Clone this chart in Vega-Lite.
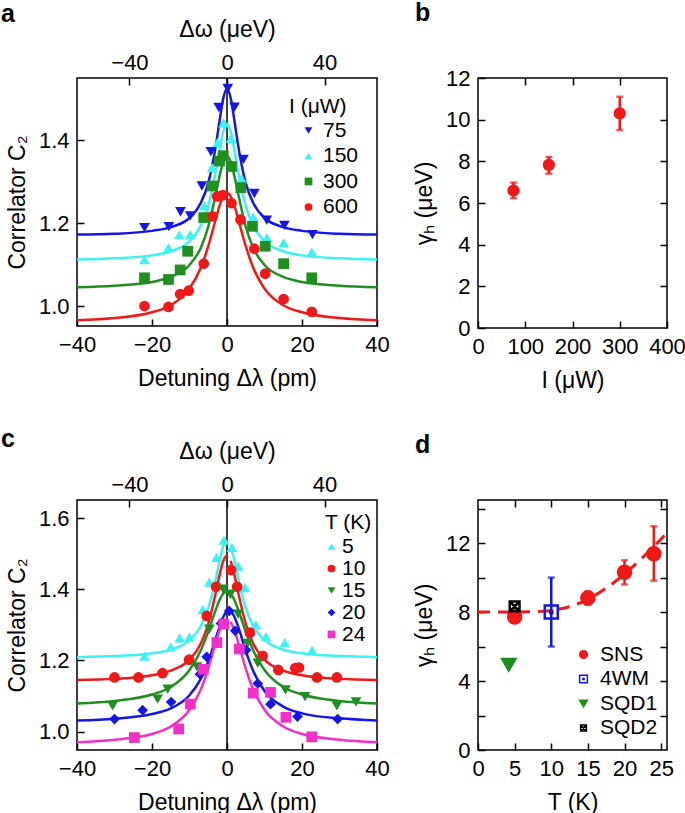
{
  "$schema": "https://vega.github.io/schema/vega-lite/v6.json",
  "background": "white",
  "padding": {"left": 0, "top": 0, "right": 0, "bottom": 0},
  "datasets": {
    "aCurve": [
      {"x": -40, "I75": 1.173, "I150": 1.113, "I300": 1.046, "I600": 0.967},
      {"x": -30, "I75": 1.175, "I150": 1.116, "I300": 1.050, "I600": 0.972},
      {"x": -20, "I75": 1.182, "I150": 1.123, "I300": 1.059, "I600": 0.986},
      {"x": -15, "I75": 1.191, "I150": 1.133, "I300": 1.071, "I600": 1.003},
      {"x": -10, "I75": 1.213, "I150": 1.157, "I300": 1.100, "I600": 1.043},
      {"x": -7, "I75": 1.249, "I150": 1.194, "I300": 1.141, "I600": 1.093},
      {"x": -5, "I75": 1.297, "I150": 1.242, "I300": 1.192, "I600": 1.145},
      {"x": -3, "I75": 1.386, "I150": 1.324, "I300": 1.270, "I600": 1.210},
      {"x": -2, "I75": 1.446, "I150": 1.376, "I300": 1.313, "I600": 1.242},
      {"x": -1, "I75": 1.501, "I150": 1.421, "I300": 1.348, "I600": 1.265},
      {"x": 0, "I75": 1.525, "I150": 1.439, "I300": 1.362, "I600": 1.273},
      {"x": 1, "I75": 1.501, "I150": 1.421, "I300": 1.348, "I600": 1.265},
      {"x": 2, "I75": 1.446, "I150": 1.376, "I300": 1.313, "I600": 1.242},
      {"x": 3, "I75": 1.386, "I150": 1.324, "I300": 1.270, "I600": 1.210},
      {"x": 5, "I75": 1.297, "I150": 1.242, "I300": 1.192, "I600": 1.145},
      {"x": 7, "I75": 1.249, "I150": 1.194, "I300": 1.141, "I600": 1.093},
      {"x": 10, "I75": 1.213, "I150": 1.157, "I300": 1.100, "I600": 1.043},
      {"x": 15, "I75": 1.191, "I150": 1.133, "I300": 1.071, "I600": 1.003},
      {"x": 20, "I75": 1.182, "I150": 1.123, "I300": 1.059, "I600": 0.986},
      {"x": 30, "I75": 1.175, "I150": 1.116, "I300": 1.050, "I600": 0.972},
      {"x": 40, "I75": 1.173, "I150": 1.113, "I300": 1.046, "I600": 0.967}
    ],
    "aPts": [
      {"x": -22.0, "y": 1.190, "s": "75"}, {"x": -15.5, "y": 1.192, "s": "75"}, {"x": -12.4, "y": 1.228, "s": "75"},
      {"x": -9.8, "y": 1.218, "s": "75"}, {"x": -6.7, "y": 1.290, "s": "75"}, {"x": -4.3, "y": 1.373, "s": "75"},
      {"x": -2.2, "y": 1.479, "s": "75"}, {"x": 0.2, "y": 1.525, "s": "75"}, {"x": 2.0, "y": 1.480, "s": "75"},
      {"x": 4.4, "y": 1.354, "s": "75"}, {"x": 7.3, "y": 1.272, "s": "75"}, {"x": 10.6, "y": 1.208, "s": "75"},
      {"x": 15.3, "y": 1.195, "s": "75"}, {"x": 22.8, "y": 1.173, "s": "75"},
      {"x": -22.0, "y": 1.113, "s": "150"}, {"x": -15.6, "y": 1.141, "s": "150"}, {"x": -12.7, "y": 1.173, "s": "150"},
      {"x": -9.8, "y": 1.173, "s": "150"}, {"x": -6.0, "y": 1.242, "s": "150"}, {"x": -4.0, "y": 1.334, "s": "150"},
      {"x": -2.5, "y": 1.395, "s": "150"}, {"x": -0.9, "y": 1.442, "s": "150"}, {"x": 1.1, "y": 1.405, "s": "150"},
      {"x": 3.9, "y": 1.308, "s": "150"}, {"x": 7.0, "y": 1.215, "s": "150"}, {"x": 10.7, "y": 1.165, "s": "150"},
      {"x": 15.1, "y": 1.153, "s": "150"}, {"x": 22.6, "y": 1.131, "s": "150"},
      {"x": -22.0, "y": 1.069, "s": "300"}, {"x": -15.6, "y": 1.065, "s": "300"}, {"x": -12.5, "y": 1.088, "s": "300"},
      {"x": -10.5, "y": 1.133, "s": "300"}, {"x": -6.2, "y": 1.214, "s": "300"}, {"x": -4.0, "y": 1.290, "s": "300"},
      {"x": -2.0, "y": 1.350, "s": "300"}, {"x": -1.0, "y": 1.363, "s": "300"}, {"x": 1.2, "y": 1.337, "s": "300"},
      {"x": 3.7, "y": 1.286, "s": "300"}, {"x": 6.8, "y": 1.193, "s": "300"}, {"x": 10.2, "y": 1.145, "s": "300"},
      {"x": 15.1, "y": 1.103, "s": "300"}, {"x": 22.6, "y": 1.069, "s": "300"},
      {"x": -22.0, "y": 1.001, "s": "600"}, {"x": -15.6, "y": 0.999, "s": "600"}, {"x": -12.5, "y": 1.030, "s": "600"},
      {"x": -10.2, "y": 1.038, "s": "600"}, {"x": -6.2, "y": 1.103, "s": "600"}, {"x": -3.8, "y": 1.217, "s": "600"},
      {"x": -2.6, "y": 1.265, "s": "600"}, {"x": -1.1, "y": 1.268, "s": "600"}, {"x": 1.2, "y": 1.249, "s": "600"},
      {"x": 3.6, "y": 1.209, "s": "600"}, {"x": 7.3, "y": 1.139, "s": "600"}, {"x": 10.2, "y": 1.079, "s": "600"},
      {"x": 15.1, "y": 1.018, "s": "600"}, {"x": 22.6, "y": 0.987, "s": "600"}
    ],
    "bPts": [
      {"I": 75, "g": 6.6, "lo": 6.23, "hi": 6.98},
      {"I": 150, "g": 7.83, "lo": 7.41, "hi": 8.21},
      {"I": 300, "g": 10.3, "lo": 9.5, "hi": 11.1}
    ],
    "cCurve": [
      {"x": -40, "T5": 1.209, "T10": 1.145, "T15": 1.079, "T20": 1.031, "T24": 0.970},
      {"x": -30, "T5": 1.212, "T10": 1.148, "T15": 1.086, "T20": 1.036, "T24": 0.977},
      {"x": -20, "T5": 1.220, "T10": 1.158, "T15": 1.104, "T20": 1.049, "T24": 0.993},
      {"x": -15, "T5": 1.230, "T10": 1.171, "T15": 1.125, "T20": 1.065, "T24": 1.014},
      {"x": -10, "T5": 1.257, "T10": 1.202, "T15": 1.173, "T20": 1.102, "T24": 1.061},
      {"x": -7, "T5": 1.296, "T10": 1.247, "T15": 1.228, "T20": 1.148, "T24": 1.118},
      {"x": -5, "T5": 1.347, "T10": 1.303, "T15": 1.281, "T20": 1.196, "T24": 1.177},
      {"x": -3, "T5": 1.429, "T10": 1.390, "T15": 1.342, "T20": 1.261, "T24": 1.250},
      {"x": -2, "T5": 1.479, "T10": 1.439, "T15": 1.369, "T20": 1.294, "T24": 1.284},
      {"x": -1, "T5": 1.521, "T10": 1.480, "T15": 1.388, "T20": 1.322, "T24": 1.308},
      {"x": 0, "T5": 1.538, "T10": 1.496, "T15": 1.395, "T20": 1.339, "T24": 1.317},
      {"x": 0.5, "T20": 1.341},
      {"x": 1, "T5": 1.521, "T10": 1.480, "T15": 1.388, "T20": 1.339, "T24": 1.308},
      {"x": 2, "T5": 1.479, "T10": 1.439, "T15": 1.369, "T20": 1.322, "T24": 1.284},
      {"x": 3, "T5": 1.429, "T10": 1.390, "T15": 1.342, "T20": 1.294, "T24": 1.250},
      {"x": 5, "T5": 1.347, "T10": 1.303, "T15": 1.281, "T20": 1.227, "T24": 1.177},
      {"x": 7, "T5": 1.296, "T10": 1.247, "T15": 1.228, "T20": 1.170, "T24": 1.118},
      {"x": 10, "T5": 1.257, "T10": 1.202, "T15": 1.173, "T20": 1.114, "T24": 1.061},
      {"x": 15, "T5": 1.230, "T10": 1.171, "T15": 1.125, "T20": 1.070, "T24": 1.014},
      {"x": 20, "T5": 1.220, "T10": 1.158, "T15": 1.104, "T20": 1.051, "T24": 0.993},
      {"x": 30, "T5": 1.212, "T10": 1.148, "T15": 1.086, "T20": 1.037, "T24": 0.977},
      {"x": 40, "T5": 1.209, "T10": 1.145, "T15": 1.079, "T20": 1.031, "T24": 0.970}
    ],
    "cPts": [
      {"x": -22.0, "y": 1.212, "s": "5"}, {"x": -15.0, "y": 1.238, "s": "5"}, {"x": -12.6, "y": 1.263, "s": "5"},
      {"x": -10.0, "y": 1.266, "s": "5"}, {"x": -6.5, "y": 1.343, "s": "5"}, {"x": -4.7, "y": 1.420, "s": "5"},
      {"x": -2.8, "y": 1.490, "s": "5"}, {"x": -0.8, "y": 1.538, "s": "5"}, {"x": 1.3, "y": 1.518, "s": "5"},
      {"x": 3.0, "y": 1.465, "s": "5"}, {"x": 4.8, "y": 1.405, "s": "5"}, {"x": 7.7, "y": 1.300, "s": "5"},
      {"x": 10.4, "y": 1.267, "s": "5"}, {"x": 15.4, "y": 1.250, "s": "5"}, {"x": 22.7, "y": 1.228, "s": "5"},
      {"x": -30.0, "y": 1.152, "s": "10"}, {"x": -23.6, "y": 1.152, "s": "10"}, {"x": -17.2, "y": 1.164, "s": "10"},
      {"x": -10.1, "y": 1.202, "s": "10"}, {"x": -5.4, "y": 1.325, "s": "10"}, {"x": -2.9, "y": 1.407, "s": "10"},
      {"x": 1.1, "y": 1.454, "s": "10"}, {"x": 2.7, "y": 1.407, "s": "10"}, {"x": 6.1, "y": 1.278, "s": "10"},
      {"x": 9.5, "y": 1.213, "s": "10"}, {"x": 13.7, "y": 1.173, "s": "10"}, {"x": 18.2, "y": 1.178, "s": "10"},
      {"x": 19.2, "y": 1.180, "s": "10"}, {"x": 24.0, "y": 1.152, "s": "10"}, {"x": 29.3, "y": 1.152, "s": "10"},
      {"x": -30.5, "y": 1.072, "s": "15"}, {"x": -18.5, "y": 1.091, "s": "15"}, {"x": -15.8, "y": 1.119, "s": "15"},
      {"x": -8.0, "y": 1.182, "s": "15"}, {"x": -4.7, "y": 1.288, "s": "15"}, {"x": -1.0, "y": 1.400, "s": "15"},
      {"x": 0.9, "y": 1.386, "s": "15"}, {"x": 3.0, "y": 1.330, "s": "15"}, {"x": 5.5, "y": 1.248, "s": "15"},
      {"x": 8.2, "y": 1.192, "s": "15"}, {"x": 15.6, "y": 1.117, "s": "15"}, {"x": 20.8, "y": 1.098, "s": "15"},
      {"x": 29.3, "y": 1.072, "s": "15"}, {"x": 34.4, "y": 1.083, "s": "15"},
      {"x": -30.0, "y": 1.035, "s": "20"}, {"x": -22.5, "y": 1.060, "s": "20"}, {"x": -14.9, "y": 1.083, "s": "20"},
      {"x": -7.2, "y": 1.161, "s": "20"}, {"x": -5.4, "y": 1.210, "s": "20"}, {"x": -1.6, "y": 1.304, "s": "20"},
      {"x": 0.6, "y": 1.339, "s": "20"}, {"x": 2.2, "y": 1.283, "s": "20"}, {"x": 5.1, "y": 1.229, "s": "20"},
      {"x": 8.2, "y": 1.135, "s": "20"}, {"x": 11.6, "y": 1.077, "s": "20"}, {"x": 18.8, "y": 1.042, "s": "20"},
      {"x": 29.5, "y": 1.035, "s": "20"},
      {"x": -24.7, "y": 0.983, "s": "24"}, {"x": -12.9, "y": 1.007, "s": "24"}, {"x": -9.8, "y": 1.077, "s": "24"},
      {"x": -6.3, "y": 1.175, "s": "24"}, {"x": -2.7, "y": 1.250, "s": "24"}, {"x": -0.9, "y": 1.302, "s": "24"},
      {"x": 3.3, "y": 1.232, "s": "24"}, {"x": 7.0, "y": 1.108, "s": "24"}, {"x": 11.6, "y": 1.110, "s": "24"},
      {"x": 15.7, "y": 1.040, "s": "24"}, {"x": 22.6, "y": 0.985, "s": "24"}
    ],
    "dFit": [
      {"T": 0, "g": 8.0}, {"T": 4, "g": 8.0}, {"T": 8, "g": 8.02}, {"T": 10, "g": 8.08},
      {"T": 12, "g": 8.25}, {"T": 14, "g": 8.54}, {"T": 16, "g": 8.97}, {"T": 18, "g": 9.53},
      {"T": 20, "g": 10.2}, {"T": 22, "g": 10.97}, {"T": 24, "g": 11.8}, {"T": 25.8, "g": 12.6}
    ],
    "dErr": [
      {"T": 5, "lo": 7.39, "hi": 8.07, "m": "SNS"},
      {"T": 15, "lo": 8.42, "hi": 9.2, "m": "SNS"},
      {"T": 20, "lo": 9.6, "hi": 11.0, "m": "SNS"},
      {"T": 24, "lo": 9.82, "hi": 12.98, "m": "SNS"},
      {"T": 10, "lo": 6.0, "hi": 10.0, "m": "4WM"}
    ],
    "dPts": [
      {"T": 5, "g": 7.72, "m": "SNS"},
      {"T": 15, "g": 8.81, "m": "SNS"},
      {"T": 20, "g": 10.31, "m": "SNS"},
      {"T": 24, "g": 11.38, "m": "SNS"},
      {"T": 10, "g": 8.0, "m": "4WM"},
      {"T": 4.2, "g": 4.95, "m": "SQD1"},
      {"T": 5, "g": 8.33, "m": "SQD2"}
    ]
  },
  "columns": 2,
  "bounds": "flush",
  "spacing": {"row": 172, "column": 101},
  "resolve": {
    "scale": {"color": "independent", "shape": "independent", "stroke": "independent", "fill": "independent"},
    "legend": {"color": "independent", "shape": "independent", "stroke": "independent", "fill": "independent"}
  },
  "concat": [
    {
      "width": 300, "height": 248,
      "title": {"text": "a", "dx": -76, "offset": -9},
      "layer": [
        {
          "data": {"values": [{"w": 0}]},
          "mark": {"type": "rule", "color": "black", "strokeWidth": 1.5},
          "encoding": {
            "x": {"field": "w", "type": "quantitative", "scale": {"domain": [-61.5, 61.5], "nice": false, "zero": false},
                  "axis": {"orient": "top", "title": "Δω (μeV)", "values": [-40, 0, 40]}}
          }
        },
        {
          "layer": [
            {
              "data": {"name": "aCurve"},
              "transform": [{"fold": ["I75", "I150", "I300", "I600"], "as": ["k", "v"]}],
              "mark": {"type": "line", "interpolate": "monotone", "strokeWidth": 2.5, "clip": true},
              "encoding": {
                "x": {"field": "x", "type": "quantitative", "scale": {"domain": [-40, 40], "nice": false},
                      "axis": {"title": "Detuning Δλ (pm)", "values": [-40, -20, 0, 20, 40]}},
                "y": {"field": "v", "type": "quantitative", "scale": {"domain": [0.953, 1.55], "nice": false, "zero": false},
                      "axis": {"title": "Correlator C₂", "values": [1.0, 1.2, 1.4], "format": ".1f"}},
                "stroke": {"field": "k", "type": "nominal", "legend": null,
                           "scale": {"domain": ["I75", "I150", "I300", "I600"], "range": ["#1515e8", "#3ef2f2", "#1f8f1f", "#f01818"]}}
              }
            },
            {
              "data": {"name": "aPts"},
              "mark": {"type": "point", "filled": true, "opacity": 1, "size": 115},
              "encoding": {
                "x": {"field": "x", "type": "quantitative"},
                "y": {"field": "y", "type": "quantitative"},
                "color": {"field": "s", "type": "nominal",
                          "scale": {"domain": ["75", "150", "300", "600"], "range": ["#1515e8", "#3ef2f2", "#1f8f1f", "#f01818"]},
                          "legend": {"title": "I (μW)", "orient": "none", "legendX": 212, "legendY": 18, "rowPadding": 3.5, "symbolOffset": 9, "labelOffset": 4}},
                "shape": {"field": "s", "type": "nominal",
                          "scale": {"domain": ["75", "150", "300", "600"], "range": ["triangle-down", "triangle-up", "square", "circle"]},
                          "legend": {"title": "I (μW)", "orient": "none", "legendX": 212, "legendY": 18, "rowPadding": 3.5, "symbolOffset": 9, "labelOffset": 4}}
              }
            }
          ]
        }
      ],
      "resolve": {"scale": {"x": "independent"}}
    },
    {
      "width": 189, "height": 250,
      "title": {"text": "b", "dx": -63, "offset": 41},
      "data": {"name": "bPts"},
      "layer": [
        {
          "mark": {"type": "rule", "color": "#f01818", "strokeWidth": 2.5},
          "encoding": {
            "x": {"field": "I", "type": "quantitative", "scale": {"domain": [0, 400], "nice": false},
                  "axis": {"title": "I (μW)", "values": [0, 100, 200, 300, 400]}},
            "y": {"field": "lo", "type": "quantitative", "scale": {"domain": [0, 12], "nice": false},
                  "axis": {"title": "γₕ (μeV)", "values": [0, 2, 4, 6, 8, 10, 12]}},
            "y2": {"field": "hi"}
          }
        },
        {
          "transform": [{"fold": ["lo", "hi"], "as": ["k", "v"]}],
          "mark": {"type": "tick", "orient": "horizontal", "color": "#f01818", "size": 7, "thickness": 2.5},
          "encoding": {
            "x": {"field": "I", "type": "quantitative", "axis": {"orient": "top", "labels": false, "title": null, "values": [100, 200, 300]}},
            "y": {"field": "v", "type": "quantitative", "axis": {"orient": "right", "labels": false, "title": null, "values": [2, 4, 6, 8, 10]}}
          }
        },
        {
          "mark": {"type": "point", "filled": true, "opacity": 1, "color": "#f01818", "size": 150},
          "encoding": {
            "x": {"field": "I", "type": "quantitative", "axis": null},
            "y": {"field": "g", "type": "quantitative", "axis": null}
          }
        }
      ],
      "resolve": {"axis": {"x": "independent", "y": "independent"}}
    },
    {
      "width": 300, "height": 250,
      "title": {"text": "c", "dx": -76, "offset": -12},
      "layer": [
        {
          "data": {"values": [{"w": 0}]},
          "mark": {"type": "rule", "color": "black", "strokeWidth": 1.5},
          "encoding": {
            "x": {"field": "w", "type": "quantitative", "scale": {"domain": [-61.5, 61.5], "nice": false, "zero": false},
                  "axis": {"orient": "top", "title": "Δω (μeV)", "values": [-40, 0, 40]}}
          }
        },
        {
          "layer": [
            {
              "data": {"name": "cCurve"},
              "transform": [{"fold": ["T5", "T10", "T15", "T20", "T24"], "as": ["k", "v"]}],
              "mark": {"type": "line", "interpolate": "monotone", "strokeWidth": 2.5, "clip": true},
              "encoding": {
                "x": {"field": "x", "type": "quantitative", "scale": {"domain": [-40, 40], "nice": false},
                      "axis": {"title": "Detuning Δλ (pm)", "values": [-40, -20, 0, 20, 40]}},
                "y": {"field": "v", "type": "quantitative", "scale": {"domain": [0.948, 1.651], "nice": false, "zero": false},
                      "axis": {"title": "Correlator C₂", "values": [1.0, 1.2, 1.4, 1.6], "format": ".1f"}},
                "stroke": {"field": "k", "type": "nominal", "legend": null,
                           "scale": {"domain": ["T5", "T10", "T15", "T20", "T24"], "range": ["#3ef2f2", "#f01818", "#1f8f1f", "#1515e8", "#f22fc8"]}}
              }
            },
            {
              "data": {"name": "cPts"},
              "mark": {"type": "point", "filled": true, "opacity": 1, "size": 115},
              "encoding": {
                "x": {"field": "x", "type": "quantitative"},
                "y": {"field": "y", "type": "quantitative"},
                "color": {"field": "s", "type": "nominal",
                          "scale": {"domain": ["5", "10", "15", "20", "24"], "range": ["#3ef2f2", "#f01818", "#1f8f1f", "#1515e8", "#f22fc8"]},
                          "legend": {"title": "T (K)", "orient": "none", "legendX": 248, "legendY": 12, "rowPadding": 0, "symbolOffset": -4, "labelOffset": 0}},
                "shape": {"field": "s", "type": "nominal",
                          "scale": {"domain": ["5", "10", "15", "20", "24"], "range": ["triangle-up", "circle", "triangle-down", "diamond", "square"]},
                          "legend": {"title": "T (K)", "orient": "none", "legendX": 248, "legendY": 12, "rowPadding": 0, "symbolOffset": -4, "labelOffset": 0}}
              }
            }
          ]
        }
      ],
      "resolve": {"scale": {"x": "independent"}}
    },
    {
      "width": 189, "height": 250,
      "title": {"text": "d", "dx": -63, "offset": 40},
      "layer": [
        {
          "data": {"name": "dFit"},
          "mark": {"type": "line", "color": "#f01818", "strokeWidth": 3, "strokeDash": [12, 8], "clip": true},
          "encoding": {
            "x": {"field": "T", "type": "quantitative", "scale": {"domain": [0, 25.8], "nice": false},
                  "axis": {"title": "T (K)", "values": [0, 5, 10, 15, 20, 25]}},
            "y": {"field": "g", "type": "quantitative", "scale": {"domain": [0, 14.5], "nice": false},
                  "axis": {"title": "γₕ (μeV)", "values": [0, 2, 4, 6, 8, 10, 12, 14], "labelExpr": "datum.value % 4 === 0 ? datum.label : ''"}}
          }
        },
        {
          "data": {"name": "dErr"},
          "transform": [{"filter": "datum.m === 'SNS'"}],
          "mark": {"type": "rule", "color": "#f01818", "strokeWidth": 2.5},
          "encoding": {
            "x": {"field": "T", "type": "quantitative", "axis": {"orient": "top", "labels": false, "title": null, "values": [5, 10, 15, 20, 25]}},
            "y": {"field": "lo", "type": "quantitative", "axis": {"orient": "right", "labels": false, "title": null, "values": [2, 4, 6, 8, 10, 12, 14]}},
            "y2": {"field": "hi"}
          }
        },
        {
          "data": {"name": "dErr"},
          "transform": [{"filter": "datum.m === 'SNS'"}, {"fold": ["lo", "hi"], "as": ["k", "v"]}],
          "mark": {"type": "tick", "orient": "horizontal", "color": "#f01818", "size": 7, "thickness": 2.5},
          "encoding": {
            "x": {"field": "T", "type": "quantitative", "axis": null},
            "y": {"field": "v", "type": "quantitative", "axis": null}
          }
        },
        {
          "data": {"name": "dErr"},
          "transform": [{"filter": "datum.m === '4WM'"}],
          "mark": {"type": "rule", "color": "#1515e8", "strokeWidth": 2.5},
          "encoding": {
            "x": {"field": "T", "type": "quantitative", "axis": null},
            "y": {"field": "lo", "type": "quantitative", "axis": null},
            "y2": {"field": "hi"}
          }
        },
        {
          "data": {"name": "dErr"},
          "transform": [{"filter": "datum.m === '4WM'"}, {"fold": ["lo", "hi"], "as": ["k", "v"]}],
          "mark": {"type": "tick", "orient": "horizontal", "color": "#1515e8", "size": 7, "thickness": 2.5},
          "encoding": {
            "x": {"field": "T", "type": "quantitative", "axis": null},
            "y": {"field": "v", "type": "quantitative", "axis": null}
          }
        },
        {
          "data": {"name": "dPts"},
          "mark": {"type": "point", "size": 170, "strokeWidth": 2.5, "opacity": 1},
          "encoding": {
            "x": {"field": "T", "type": "quantitative", "axis": null},
            "y": {"field": "g", "type": "quantitative", "axis": null},
            "shape": {"field": "m", "type": "nominal",
                      "scale": {"domain": ["SNS", "4WM", "SQD1", "SQD2"],
                                "range": ["circle", "M-1,-1H1V1H-1Z M-0.15,-0.15H0.15V0.15H-0.15Z", "triangle-down", "M-0.75,-0.75H0.75V0.75H-0.75Z M-0.75,-0.75L0.75,0.75 M0.75,-0.75L-0.75,0.75"]},
                      "legend": {"title": null, "orient": "none", "legendX": 91, "legendY": 144, "rowPadding": 2.5, "symbolOffset": 4, "labelOffset": 6}},
            "fill": {"field": "m", "type": "nominal",
                     "scale": {"domain": ["SNS", "4WM", "SQD1", "SQD2"], "range": ["#f01818", "transparent", "#1f8f1f", "transparent"]},
                     "legend": {"title": null, "orient": "none", "legendX": 91, "legendY": 144, "rowPadding": 2.5, "symbolOffset": 4, "labelOffset": 6}},
            "stroke": {"field": "m", "type": "nominal",
                       "scale": {"domain": ["SNS", "4WM", "SQD1", "SQD2"], "range": ["#f01818", "#1515e8", "#1f8f1f", "black"]},
                       "legend": {"title": null, "orient": "none", "legendX": 91, "legendY": 144, "rowPadding": 2.5, "symbolOffset": 4, "labelOffset": 6}}
          }
        }
      ],
      "resolve": {"axis": {"x": "independent", "y": "independent"}}
    }
  ],
  "config": {
    "font": "Liberation Sans",
    "view": {"stroke": "black", "strokeWidth": 1.5},
    "title": {"fontSize": 25, "fontWeight": "bold", "anchor": "start", "frame": "group", "color": "black", "font": "Liberation Sans"},
    "axis": {
      "grid": false, "domain": false,
      "tickColor": "black", "tickWidth": 1.5, "tickSize": -7,
      "labelFont": "Liberation Sans", "labelFontSize": 22, "labelColor": "black", "labelPadding": 15,
      "labelFlush": false, "labelOverlap": false,
      "titleFont": "Liberation Sans", "titleFontSize": 23, "titleFontWeight": "normal", "titleColor": "black", "titlePadding": 6
    },
    "axisBottom": {"titlePadding": 12},
    "axisTop": {"labelPadding": 11, "titlePadding": 10},
    "axisLeft": {"titlePadding": 9},
    "legend": {
      "labelFont": "Liberation Sans", "labelFontSize": 21, "labelColor": "black",
      "titleFont": "Liberation Sans", "titleFontSize": 21, "titleFontWeight": "normal", "titleColor": "black",
      "symbolSize": 60, "symbolStrokeWidth": 1.5, "labelOffset": 8, "titlePadding": 3
    }
  }
}
